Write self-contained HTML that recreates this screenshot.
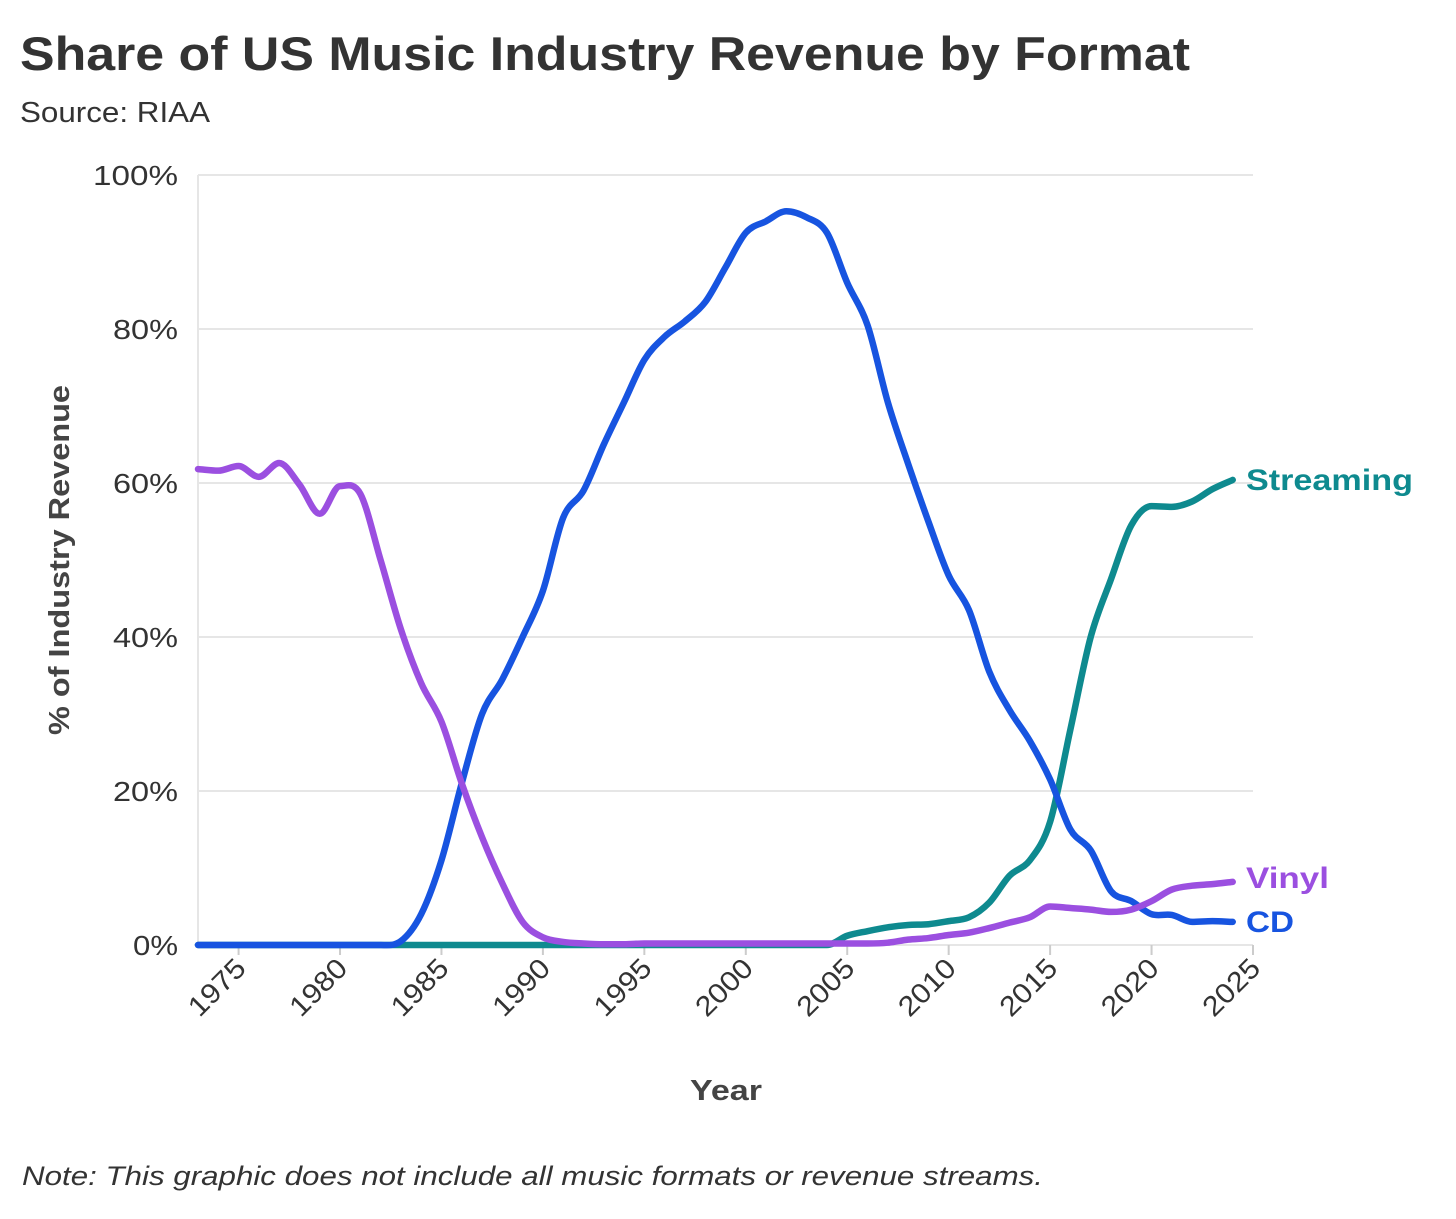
<!DOCTYPE html>
<html><head><meta charset="utf-8"><style>
body{margin:0;background:#fff;width:1456px;height:1214px;overflow:hidden;font-family:"Liberation Sans",sans-serif;}
</style></head><body>
<svg width="1456" height="1214" xmlns="http://www.w3.org/2000/svg">
<text x="20" y="70" font-size="47" font-weight="bold" fill="#333" textLength="1170" lengthAdjust="spacingAndGlyphs">Share of US Music Industry Revenue by Format</text>
<text x="20" y="122" font-size="29" fill="#333" textLength="190" lengthAdjust="spacingAndGlyphs">Source: RIAA</text>
<g id="grid"></g><g id="axes"></g><g id="lines"></g><g id="labels"></g>
<text transform="translate(69,560) rotate(-90)" text-anchor="middle" font-size="29" font-weight="bold" fill="#444" textLength="350" lengthAdjust="spacingAndGlyphs">% of Industry Revenue</text>
<text x="726" y="1100" text-anchor="middle" font-size="29" font-weight="bold" fill="#444" textLength="72" lengthAdjust="spacingAndGlyphs">Year</text>
<text x="22" y="1185" font-size="27" font-style="italic" fill="#333" textLength="1021" lengthAdjust="spacingAndGlyphs">Note: This graphic does not include all music formats or revenue streams.</text>
</svg>
<script>
const years=[];for(let y=1973;y<=2024;y++)years.push(y);
const vinyl=[61.8,61.6,62.2,60.8,62.6,59.8,56,59.6,58.6,50,41,34,29,21,14,8,3,1,0.4,0.2,0.1,0.1,0.2,0.2,0.2,0.2,0.2,0.2,0.2,0.2,0.2,0.2,0.2,0.2,0.3,0.7,0.9,1.3,1.6,2.2,2.9,3.6,5,4.8,4.6,4.3,4.6,5.7,7.2,7.7,7.9,8.2];
const cd=[0,0,0,0,0,0,0,0,0,0,0.5,4,11,21,30,34.5,40,46,55.5,59,65,70.5,76,79,81,83.5,88,92.5,94,95.3,94.5,92.5,86,80.5,70.5,62.5,55,48,43.5,35.5,30.5,26.5,21.5,15,12.3,7,5.7,4,3.9,3,3.1,3];
const streaming=[0,0,0,0,0,0,0,0,0,0,0,0,0,0,0,0,0,0,0,0,0,0,0,0,0,0,0,0,0,0,0,0,1.2,1.8,2.3,2.6,2.7,3.1,3.6,5.5,9,11,16,28,40,47.5,54.5,57,56.9,57.6,59.2,60.4];
const yTicks=[0,20,40,60,80,100];
const xTicks=[1975,1980,1985,1990,1995,2000,2005,2010,2015,2020,2025];
const X=y=>198+(y-1973)*(1253-198)/52;
const Y=v=>945-v*7.7;
const NS="http://www.w3.org/2000/svg";
function mk(t,a,p){const e=document.createElementNS(NS,t);for(const k in a)e.setAttribute(k,a[k]);p.appendChild(e);return e;}
const grid=document.getElementById('grid'),axes=document.getElementById('axes'),lines=document.getElementById('lines'),labels=document.getElementById('labels');
yTicks.forEach(v=>{
 const l=mk('line',{x1:198,x2:1253,y1:Y(v),y2:Y(v),stroke:'#e6e6e6','stroke-width':2},grid);
 
 
 const w=v==100?85:(v==0?45:65);
 const t=mk('text',{x:178,y:Y(v)+10,'text-anchor':'end','font-size':28,fill:'#333',textLength:w,lengthAdjust:'spacingAndGlyphs'},grid);
 t.textContent=v+'%';
 
 
});
const va=mk('line',{x1:198,x2:198,y1:175,y2:945,stroke:'#e6e6e6','stroke-width':2},axes);


xTicks.forEach(yr=>{
 const x=X(yr);
 const tk=mk('line',{x1:x,x2:x,y1:945,y2:955,stroke:'#ccc','stroke-width':2},axes);
 
 
 const t=mk('text',{transform:`translate(${x+9},${970}) rotate(-45)`,'text-anchor':'end','font-size':28,fill:'#333',textLength:68,lengthAdjust:'spacingAndGlyphs'},axes);
 t.textContent=yr;
 
 
});
function path(vals){
 const p=vals.map((v,i)=>[X(years[i]),Y(v)]);
 const n=p.length,d=[],m=[];
 for(let i=0;i<n-1;i++)d.push((p[i+1][1]-p[i][1])/(p[i+1][0]-p[i][0]));
 for(let i=0;i<n;i++){
  if(i==0)m.push(d[0]);else if(i==n-1)m.push(d[n-2]);
  else m.push(d[i-1]*d[i]<=0?0:(d[i-1]+d[i])/2);
 }
 let s=`M${p[0][0]},${p[0][1]}`;
 for(let i=0;i<n-1;i++){const h=(p[i+1][0]-p[i][0])/3;
  s+=` C${p[i][0]+h},${p[i][1]+m[i]*h} ${p[i+1][0]-h},${p[i+1][1]-m[i+1]*h} ${p[i+1][0]},${p[i+1][1]}`;}
 return s;
}
const series=[['streaming',streaming,'#0e8a8f','Streaming',0,167],['cd',cd,'#1754e0','CD',0,48],['vinyl',vinyl,'#9b4fe0','Vinyl',-4,83]];
series.forEach(([n,v,c,lab,off,w])=>{
 const p=mk('path',{d:path(v),fill:'none',stroke:c,'stroke-width':6.5,'stroke-linejoin':'round','stroke-linecap':'round'},lines);
 
 
 const last=v[v.length-1];
 const t=mk('text',{x:1246,y:Y(last)+10+off,'font-size':30,'font-weight':'bold',fill:c,textLength:w,lengthAdjust:'spacingAndGlyphs'},labels);
 t.textContent=lab;
 
 
});
</script>
</body></html>
